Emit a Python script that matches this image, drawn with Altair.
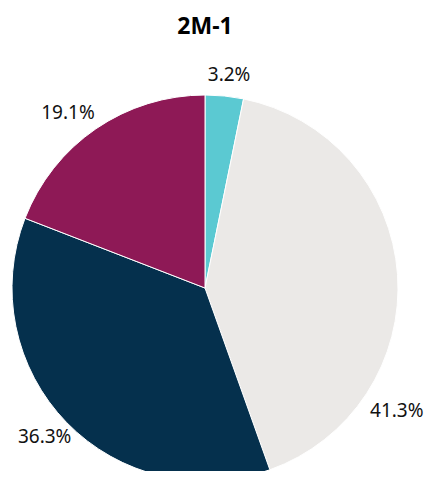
import math
import altair as alt
import pandas as pd

categories = ["A", "B", "C", "D"]
values = [3.2, 41.3, 36.3, 19.1]
labels = ["3.2%", "41.3%", "36.3%", "19.1%"]
colors = ["#5BC9D2", "#EBE9E7", "#05304D", "#8E1956"]
title_text = "2M-1"

df = pd.DataFrame({"cat": categories, "value": values, "label": labels, "order": range(len(values))})

# label placement: mid angle of each slice, nudged (deg, radius px) to sit like the original
total = sum(values)
cum = 0
mids = []
for v in values:
    mids.append((cum + v / 2) / total * 360)
    cum += v
nudge = [(0.7, 214), (36.8, 228), (1.3, 219), (-3.7, 222)]
df["mid"] = [m + nudge[i][0] for i, m in enumerate(mids)]
df["lr"] = [nudge[i][1] for i in range(len(values))]

cx, cy, R = 197, 280, 193

base = alt.Chart(df)
pie = base.mark_arc(radius=R, stroke="white", strokeWidth=1).encode(
    theta=alt.Theta("value:Q", stack=True),
    color=alt.Color("cat:N", scale=alt.Scale(domain=categories, range=colors), legend=None),
    order=alt.Order("order:Q"),
    x=alt.value(cx), y=alt.value(cy),
)
text = base.mark_text(font="Noto Sans", fontSize=19, color="#111111", align="center", baseline="middle").encode(
    theta=alt.Theta("mid:Q", scale=alt.Scale(domain=[0, 360], range=[0, 2 * math.pi])),
    radius=alt.Radius("lr:Q", scale=None),
    text="label:N",
    x=alt.value(cx), y=alt.value(cy),
)
title = alt.Chart(pd.DataFrame({"t": [title_text]})).mark_text(
    font="Noto Sans", fontSize=23, fontWeight="bold", color="#000000", align="center", baseline="alphabetic"
).encode(text="t:N", x=alt.value(cx), y=alt.value(26))

chart = alt.layer(pie, text, title).resolve_scale(theta="independent").properties(
    width=417, height=463, autosize="none", padding=0
).configure_view(stroke=None)

chart.save("out.html", embed_options={"renderer": "svg", "actions": False})
